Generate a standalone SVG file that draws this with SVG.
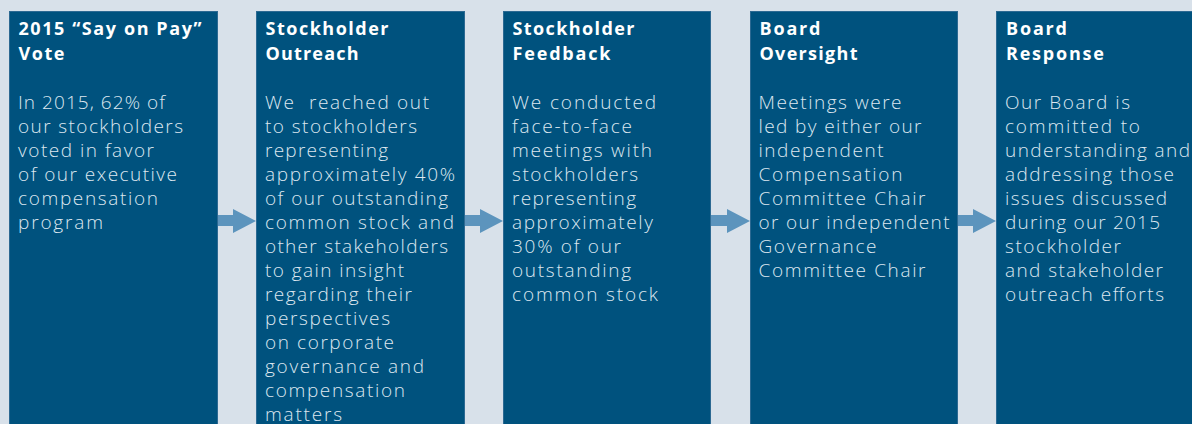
<svg xmlns="http://www.w3.org/2000/svg" width="1192" height="424" viewBox="0 0 1192 424">
<defs>
<style>
.bg{fill:#d8e1ea}
.box{fill:#00527e;stroke:#2c6992;stroke-width:1}
.arrow{fill:#5c94bd}
.title{font-family:"Open Sans","Liberation Sans",sans-serif;font-size:18px;font-weight:700;fill:#ffffff}
.body{font-family:"Open Sans","Liberation Sans",sans-serif;font-size:19px;font-weight:300;fill:#dde7f0}
</style>
</defs>
<rect class="bg" x="0" y="0" width="1192" height="424"/>
<g id="connectors">
<polygon class="arrow" points="217,215 233,215 233,209 256,221 233,233 233,226 217,226"/>
<polygon class="arrow" points="465,215 480,215 480,209 503,221 480,233 480,226 465,226"/>
<polygon class="arrow" points="711,215 727,215 727,209 750,221 727,233 727,226 711,226"/>
<polygon class="arrow" points="958,215 973,215 973,209 996,221 973,233 973,226 958,226"/>
</g>
<g id="node1">
<rect class="box" x="9.5" y="11.5" width="208" height="420"/>
<text class="title" x="18.5" y="35" textLength="183" lengthAdjust="spacing">2015 “Say on Pay”</text>
<text class="title" x="18.5" y="60" textLength="46" lengthAdjust="spacing">Vote</text>
<text class="body" x="18" y="109" textLength="147" lengthAdjust="spacing">In 2015, 62% of</text>
<text class="body" x="18" y="133" textLength="165" lengthAdjust="spacing">our stockholders</text>
<text class="body" x="18" y="157" textLength="136" lengthAdjust="spacing">voted in favor</text>
<text class="body" x="18" y="181" textLength="159" lengthAdjust="spacing">of our executive</text>
<text class="body" x="18" y="205" textLength="140" lengthAdjust="spacing">compensation</text>
<text class="body" x="18" y="229" textLength="85" lengthAdjust="spacing">program</text>
</g>
<g id="node2">
<rect class="box" x="256.5" y="11.5" width="208" height="420"/>
<text class="title" x="265.5" y="35" textLength="123" lengthAdjust="spacing">Stockholder</text>
<text class="title" x="265.5" y="60" textLength="93" lengthAdjust="spacing">Outreach</text>
<text class="body" x="265" y="109" xml:space="preserve" textLength="164" lengthAdjust="spacing">We  reached out</text>
<text class="body" x="265" y="133" textLength="152" lengthAdjust="spacing">to stockholders</text>
<text class="body" x="265" y="157" textLength="123" lengthAdjust="spacing">representing</text>
<text class="body" x="265" y="181" textLength="190" lengthAdjust="spacing">approximately 40%</text>
<text class="body" x="265" y="205" textLength="183" lengthAdjust="spacing">of our outstanding</text>
<text class="body" x="265" y="229" textLength="189" lengthAdjust="spacing">common stock and</text>
<text class="body" x="265" y="253" textLength="183" lengthAdjust="spacing">other stakeholders</text>
<text class="body" x="265" y="277" textLength="139" lengthAdjust="spacing">to gain insight</text>
<text class="body" x="265" y="301" textLength="147" lengthAdjust="spacing">regarding their</text>
<text class="body" x="265" y="325" textLength="125" lengthAdjust="spacing">perspectives</text>
<text class="body" x="265" y="349" textLength="129" lengthAdjust="spacing">on corporate</text>
<text class="body" x="265" y="373" textLength="159" lengthAdjust="spacing">governance and</text>
<text class="body" x="265" y="397" textLength="140" lengthAdjust="spacing">compensation</text>
<text class="body" x="265" y="421" textLength="77" lengthAdjust="spacing">matters</text>
</g>
<g id="node3">
<rect class="box" x="503.5" y="11.5" width="207" height="420"/>
<text class="title" x="512.5" y="35" textLength="122" lengthAdjust="spacing">Stockholder</text>
<text class="title" x="512.5" y="60" textLength="98" lengthAdjust="spacing">Feedback</text>
<text class="body" x="512" y="109" textLength="144" lengthAdjust="spacing">We conducted</text>
<text class="body" x="512" y="133" textLength="120" lengthAdjust="spacing">face-to-face</text>
<text class="body" x="512" y="157" textLength="140" lengthAdjust="spacing">meetings with</text>
<text class="body" x="512" y="181" textLength="126" lengthAdjust="spacing">stockholders</text>
<text class="body" x="512" y="205" textLength="124" lengthAdjust="spacing">representing</text>
<text class="body" x="512" y="229" textLength="141" lengthAdjust="spacing">approximately</text>
<text class="body" x="512" y="253" textLength="109" lengthAdjust="spacing">30% of our</text>
<text class="body" x="512" y="277" textLength="119" lengthAdjust="spacing">outstanding</text>
<text class="body" x="512" y="301" textLength="146" lengthAdjust="spacing">common stock</text>
</g>
<g id="node4">
<rect class="box" x="750.5" y="11.5" width="207" height="420"/>
<text class="title" x="759.5" y="35" textLength="61" lengthAdjust="spacing">Board</text>
<text class="title" x="759.5" y="60" textLength="98" lengthAdjust="spacing">Oversight</text>
<text class="body" x="758.5" y="109" textLength="143" lengthAdjust="spacing">Meetings were</text>
<text class="body" x="758.5" y="133" textLength="163" lengthAdjust="spacing">led by either our</text>
<text class="body" x="758.5" y="157" textLength="125" lengthAdjust="spacing">independent</text>
<text class="body" x="758.5" y="181" textLength="144" lengthAdjust="spacing">Compensation</text>
<text class="body" x="758.5" y="205" textLength="167" lengthAdjust="spacing">Committee Chair</text>
<text class="body" x="758.5" y="229" textLength="191" lengthAdjust="spacing">or our independent</text>
<text class="body" x="758.5" y="253" textLength="118" lengthAdjust="spacing">Governance</text>
<text class="body" x="758.5" y="277" textLength="167" lengthAdjust="spacing">Committee Chair</text>
</g>
<g id="node5">
<rect class="box" x="996.5" y="11.5" width="210" height="420"/>
<text class="title" x="1006" y="35" textLength="61" lengthAdjust="spacing">Board</text>
<text class="title" x="1006" y="60" textLength="98" lengthAdjust="spacing">Response</text>
<text class="body" x="1005" y="109" textLength="125" lengthAdjust="spacing">Our Board is</text>
<text class="body" x="1005" y="133" textLength="135" lengthAdjust="spacing">committed to</text>
<text class="body" x="1005" y="157" textLength="185" lengthAdjust="spacing">understanding and</text>
<text class="body" x="1005" y="181" textLength="169" lengthAdjust="spacing">addressing those</text>
<text class="body" x="1005" y="205" textLength="162" lengthAdjust="spacing">issues discussed</text>
<text class="body" x="1005" y="229" textLength="155" lengthAdjust="spacing">during our 2015</text>
<text class="body" x="1005" y="253" textLength="116" lengthAdjust="spacing">stockholder</text>
<text class="body" x="1005" y="277" textLength="158" lengthAdjust="spacing">and stakeholder</text>
<text class="body" x="1005" y="301" textLength="159" lengthAdjust="spacing">outreach efforts</text>
</g>
</svg>
